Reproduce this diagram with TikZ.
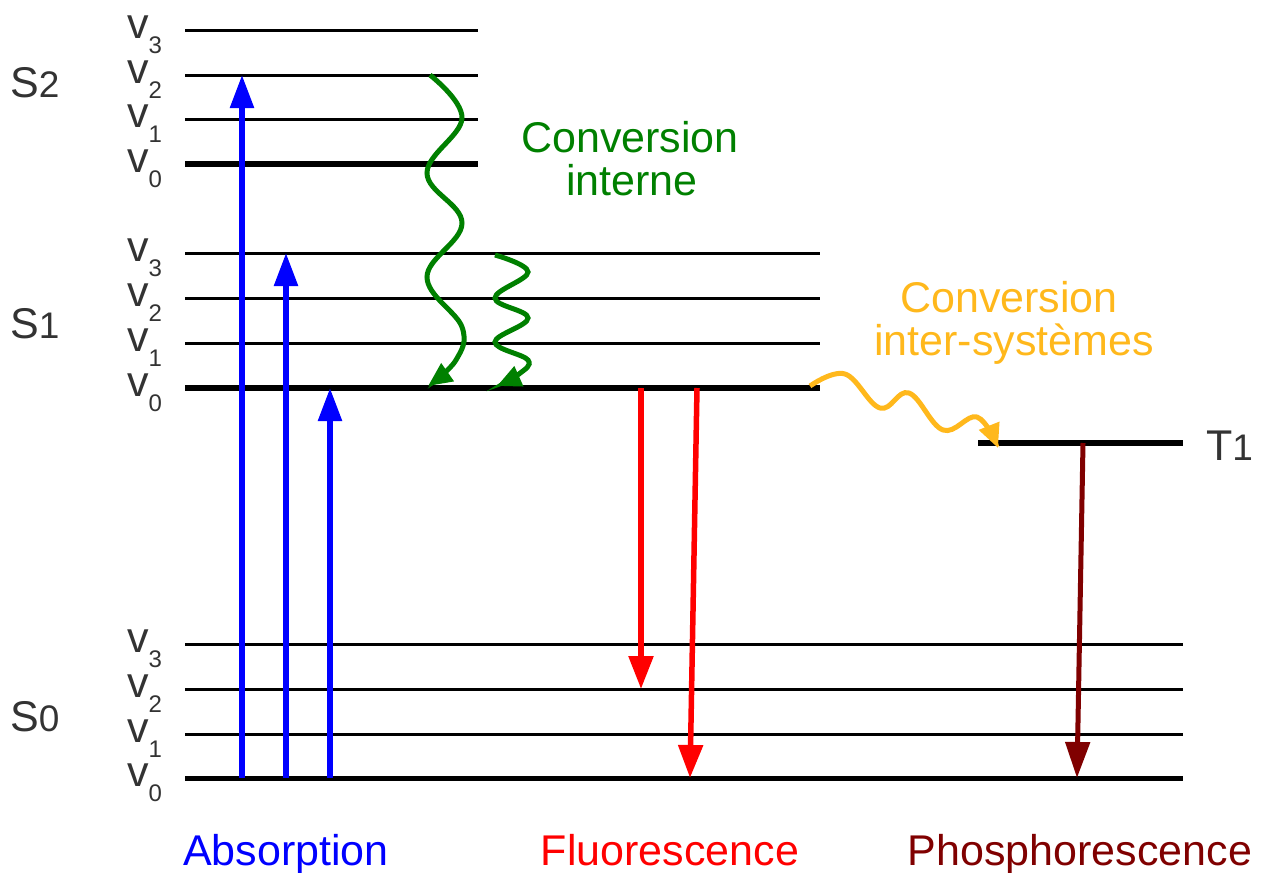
\documentclass[tikz,border=0pt]{standalone}
\usepackage{fontspec}
\setmainfont{Liberation Sans}
\usetikzlibrary{arrows.meta}

\definecolor{labelgray}{HTML}{333333}
\definecolor{absblue}{RGB}{0,0,255}
\definecolor{fluored}{RGB}{255,0,0}
\definecolor{phosred}{RGB}{128,0,0}
\definecolor{icgreen}{RGB}{0,128,0}
\definecolor{iscorange}{RGB}{255,184,28}

\newcommand{\bigtext}{\fontsize{43}{48}\selectfont}
\newcommand{\vsub}[1]{\raisebox{-15pt}{\fontsize{24}{24}\selectfont #1}}
\newcommand{\stnum}[1]{{\fontsize{37}{37}\selectfont #1}}

\tikzset{
  thinlevel/.style={line width=3pt},
  thicklevel/.style={line width=5.5pt},
  vlabel/.style={anchor=base west, inner sep=0pt, text=labelgray, font=\bigtext},
  statelabel/.style={anchor=base west, inner sep=0pt, text=labelgray, font=\bigtext},
  caption/.style={anchor=base, inner sep=0pt, font=\bigtext},
  absarrow/.style={draw=absblue, line width=5.5pt, -{Triangle[length=33pt,width=23pt]}},
  fluoarrow/.style={draw=fluored, line width=5.5pt, -{Triangle[length=33pt,width=24pt]}},
  phosarrow/.style={draw=phosred, line width=5pt, -{Triangle[length=36pt,width=24pt]}},
  icarrow/.style={draw=icgreen, line width=5pt, -{Triangle[length=24pt,width=21pt]}},
  iscarrow/.style={draw=iscorange, line width=5pt, -{Triangle[length=24pt,width=21pt]}},
}

\begin{document}
\begin{tikzpicture}[x=1pt,y=-1pt]
        \useasboundingbox (0,0) rectangle (1267,873);
        %
        % S2 levels
        \foreach \n/\y/\w in {3/30.5/thinlevel,2/75/thinlevel,1/119.5/thinlevel,0/164/thicklevel}{
          \draw[\w] (185,\y) coordinate (S2v\n w) -- (478,\y) coordinate (S2v\n e);
          \node[vlabel] (S2v\n) at (127,\y+8) {v\vsub{\n}};
        }
        % S1 levels
        \foreach \n/\y/\w in {3/253/thinlevel,2/298/thinlevel,1/343/thinlevel,0/388/thicklevel}{
          \draw[\w] (185,\y) coordinate (S1v\n w) -- (820,\y) coordinate (S1v\n e);
          \node[vlabel] (S1v\n) at (127,\y+8) {v\vsub{\n}};
        }
        % S0 levels
        \foreach \n/\y/\w in {3/644/thinlevel,2/689/thinlevel,1/734/thinlevel,0/778.5/thicklevel}{
          \draw[\w] (185,\y) coordinate (S0v\n w) -- (1183,\y) coordinate (S0v\n e);
          \node[vlabel] (S0v\n) at (127,\y+8) {v\vsub{\n}};
        }
        % T1 level
        \draw[thicklevel] (978,443) coordinate (T1w) -- (1183,443) coordinate (T1e);
        %
        \node[statelabel] (S2) at (10,97) {S\stnum{2}};
        \node[statelabel] (S1) at (10,338) {S\stnum{1}};
        \node[statelabel] (S0) at (10,731) {S\stnum{0}};
        \node[statelabel] (T1) at (1206,460) {T\stnum{1}};
        %
        % absorption
        \coordinate (absAs) at (242,778);
        \coordinate (absAe) at (242,75);
        \coordinate (absBs) at (286,778);
        \coordinate (absBe) at (286,253);
        \coordinate (absCs) at (330,778);
        \coordinate (absCe) at (330,388);
        \draw[absarrow] (absAs) -- (absAe);
        \draw[absarrow] (absBs) -- (absBe);
        \draw[absarrow] (absCs) -- (absCe);
        %
        % fluorescence
        \coordinate (fluoAs) at (641,388);
        \coordinate (fluoAe) at (641,689);
        \coordinate (fluoBs) at (697,388);
        \coordinate (fluoBe) at (690,778);
        \draw[fluoarrow] (fluoAs) -- (fluoAe);
        \draw[fluoarrow] (fluoBs) -- (fluoBe);
        %
        % phosphorescence
        \coordinate (phosS) at (1083,443);
        \coordinate (phosE) at (1077,778);
        \draw[phosarrow] (phosS) -- (phosE);
        %
        % internal conversion
        \coordinate (icAs) at (430,75);
        \coordinate (icAe) at (428,386);
        \coordinate (icBs) at (495,255);
        \coordinate (icBe) at (497,386);
        \draw[icarrow] plot[smooth, tension=0.65] coordinates {(icAs) (462,118) (427,173) (462,223) (427,277) (462,327) (456,360) (icAe)};
        \draw[icarrow] plot[smooth, tension=0.65] coordinates {(icBs) (528,272) (495,298) (528,318) (495,342) (528,360) (519,374) (icBe)};
        %
        % intersystem crossing
        \coordinate (iscS) at (810,386);
        \coordinate (iscE) at (998,448);
        \draw[iscarrow] plot[smooth, tension=0.65] coordinates {(iscS) (845,374) (880,408) (909,393) (943,430) (977,417) (iscE)};
        %
        \node[caption, text=icgreen] (icline1) at (630,152) {Conversion};
        \node[caption, text=icgreen] (icline2) at (632,195) {interne};
        \node[caption, text=iscorange] (iscline1) at (1009,312) {Conversion};
        \node[caption, text=iscorange] (iscline2) at (1014,355) {inter-systèmes};
        %
        \node[caption, text=absblue] (absorption) at (286,865) {Absorption};
        \node[caption, text=fluored] (fluorescence) at (670,865) {Fluorescence};
        \node[caption, text=phosred] (phosphorescence) at (1080,865) {Phosphorescence};
      \end{tikzpicture}
\end{document}
